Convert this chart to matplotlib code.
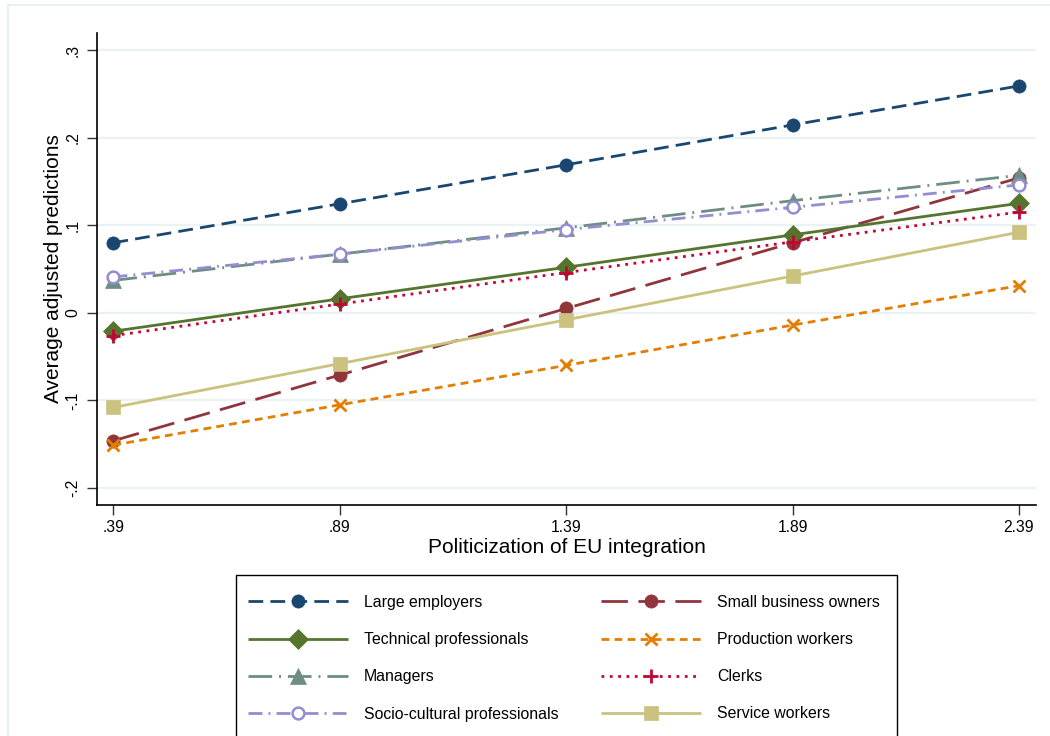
import matplotlib
matplotlib.use("Agg")
import matplotlib.pyplot as plt
from matplotlib.lines import Line2D
from matplotlib.patches import Rectangle

plt.rcParams['font.family'] = ['Liberation Sans', 'DejaVu Sans']

x_values = [0.39, 0.89, 1.39, 1.89, 2.39]
x_ticklabels = [".39", ".89", "1.39", "1.89", "2.39"]
y_ticks = [-0.2, -0.1, 0.0, 0.1, 0.2, 0.3]
y_ticklabels = ["-.2", "-.1", "0", ".1", ".2", ".3"]

large_employers = [0.080, 0.1245, 0.169, 0.2145, 0.259]
small_business_owners = [-0.146, -0.071, 0.005, 0.080, 0.154]
technical_professionals = [-0.021, 0.016, 0.052, 0.089, 0.125]
production_workers = [-0.151, -0.105, -0.060, -0.014, 0.031]
managers = [0.037, 0.067, 0.097, 0.128, 0.157]
clerks = [-0.026, 0.010, 0.046, 0.081, 0.115]
socio_cultural = [0.041, 0.067, 0.095, 0.1205, 0.146]
service_workers = [-0.108, -0.058, -0.008, 0.042, 0.092]

series = [
    ("Large employers", large_employers, "#1a476f", (0, (5.3, 2.6)), "o", 9.5, True),
    ("Small business owners", small_business_owners, "#90353b", (0, (9.5, 3.8)), "o", 9.5, True),
    ("Technical professionals", technical_professionals, "#55752f", "-", "D", 10, True),
    ("Production workers", production_workers, "#e37e00", (0, (2.8, 1.9)), "x", 9, True),
    ("Managers", managers, "#6e8e84", (0, (8.5, 2.5, 0.7, 2.5)), "^", 11, True),
    ("Clerks", clerks, "#c10534", (0, (1.0, 2.0)), "+", 10, True),
    ("Socio-cultural professionals", socio_cultural, "#938dd2", (0, (5, 2.2, 0.7, 2.2)), "o", 8.5, False),
    ("Service workers", service_workers, "#cac27e", "-", "s", 9.5, True),
]

fig = plt.figure(figsize=(10.5, 7.36), dpi=100)
W, H = 1050, 736
ax = fig.add_axes([97 / W, 1 - 504.5 / H, (1036 - 97) / W, (504.5 - 33) / H])

handles = {}
for name, vals, color, ls, mk, ms, filled in series:
    kw = dict(color=color, linestyle=ls, linewidth=2.0, marker=mk, markersize=ms,
              dash_capstyle='butt', solid_capstyle='butt')
    if mk in ("x", "+"):
        kw.update(markeredgewidth=2.0, markeredgecolor=color)
    elif filled:
        kw.update(markerfacecolor=color, markeredgecolor=color, markeredgewidth=0.5)
    else:
        kw.update(markerfacecolor='white', markeredgecolor=color, markeredgewidth=1.8)
    (h,) = ax.plot(x_values, vals, label=name, **kw)
    handles[name] = h

ax.set_xlim(0.3536, 2.4275)
ax.set_ylim(-0.2188, 0.3194)
ax.set_xticks(x_values)
ax.set_xticklabels(x_ticklabels, fontsize=11.3)
ax.set_yticks(y_ticks)
ax.set_yticklabels(y_ticklabels, fontsize=11.3, rotation=90, va='center')
ax.tick_params(axis='both', length=7.5, width=1.0, color='#333333')
ax.tick_params(axis='x', pad=4)
ax.tick_params(axis='y', pad=4.5)
ax.yaxis.grid(True, color='#eaf2f3', linewidth=1.6)
ax.set_axisbelow(True)
for s in ("top", "right"):
    ax.spines[s].set_visible(False)
for s in ("left", "bottom"):
    ax.spines[s].set_linewidth(1.2)
    ax.spines[s].set_color('black')

ax.set_xlabel("Politicization of EU integration", fontsize=15, labelpad=2)
ax.set_ylabel("Average adjusted predictions", fontsize=15, labelpad=2)

order = ["Large employers", "Technical professionals", "Managers", "Socio-cultural professionals",
         "Small business owners", "Production workers", "Clerks", "Service workers"]
leg = fig.legend([handles[n] for n in order], order, loc='upper left',
                 bbox_to_anchor=(248 / W, 1 - 595 / H), bbox_transform=fig.transFigure,
                 ncol=2, fontsize=11.4, frameon=False, borderaxespad=0, borderpad=0,
                 handlelength=6.3, handletextpad=1.0, columnspacing=2.73,
                 labelspacing=1.40, numpoints=1)

fig.add_artist(Rectangle((236 / W, -0.05), (897 - 236) / W, 1 - 575 / H + 0.05,
                         transform=fig.transFigure, fill=False, edgecolor='black',
                         linewidth=1.0))

fig.add_artist(Line2D([8 / W, 1], [1 - 5 / H, 1 - 5 / H], transform=fig.transFigure,
                      color='#e9f0f0', linewidth=1.5))
fig.add_artist(Line2D([8 / W, 8 / W], [0, 1 - 5 / H], transform=fig.transFigure,
                      color='#e9f0f0', linewidth=1.5))

fig.savefig("out.png", dpi=100)
